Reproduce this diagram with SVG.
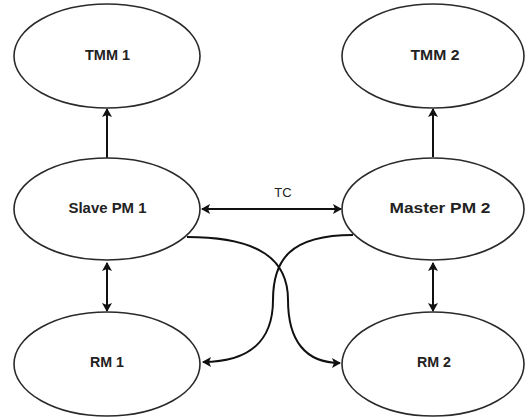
<svg xmlns="http://www.w3.org/2000/svg" width="526" height="418" viewBox="0 0 526 418">
<defs>
<style>
.node ellipse{fill:#fff;stroke:#2a2a2a;stroke-width:1.6}
.node text{font-family:"Liberation Sans",Arial,sans-serif;font-size:14px;font-weight:bold;fill:#222;text-anchor:middle}
.conn path,.conn line{fill:none;stroke:#111;stroke-width:2}
.lbl{font-family:"Liberation Sans",Arial,sans-serif;font-size:13px;fill:#222;text-anchor:middle}
</style>
<marker id="ah" markerUnits="userSpaceOnUse" markerWidth="12" markerHeight="12" viewBox="-1 -6 11 12" refX="8" refY="0" orient="auto-start-reverse">
<path d="M0,-5 L9,0 L0,5 L2,0 z" fill="#111"/>
</marker>
</defs>
<rect width="526" height="418" fill="#fff"/>
<g class="conn">
<line x1="107" y1="158" x2="107" y2="109" marker-end="url(#ah)"/>
<line x1="433" y1="157" x2="433" y2="109" marker-end="url(#ah)"/>
<line x1="107" y1="263" x2="107" y2="311" marker-start="url(#ah)" marker-end="url(#ah)"/>
<line x1="433" y1="263" x2="433" y2="311" marker-start="url(#ah)" marker-end="url(#ah)"/>
<line x1="202" y1="209" x2="341" y2="209" marker-start="url(#ah)" marker-end="url(#ah)"/>
<path d="M187,237 C260,237 288,260 288,300 C288,340 305,363 340,363" marker-end="url(#ah)"/>
<path d="M353,235 C290,235 273,260 273,300 C273,340 250,362 203,362" marker-end="url(#ah)"/>
<text class="lbl" x="283" y="197">TC</text>
</g>
<g id="tmm1" class="node"><ellipse cx="107" cy="56" rx="93" ry="52"/><text x="107.5" y="59.5" textLength="45" lengthAdjust="spacingAndGlyphs">TMM 1</text></g>
<g id="tmm2" class="node"><ellipse cx="433" cy="56" rx="91" ry="52"/><text x="435" y="60" textLength="49" lengthAdjust="spacingAndGlyphs">TMM 2</text></g>
<g id="slave" class="node"><ellipse cx="107" cy="209" rx="93" ry="51"/><text x="107.5" y="213" textLength="78" lengthAdjust="spacingAndGlyphs">Slave PM 1</text></g>
<g id="master" class="node"><ellipse cx="433" cy="209" rx="91" ry="51"/><text x="440" y="213" textLength="101" lengthAdjust="spacingAndGlyphs">Master PM 2</text></g>
<g id="rm1" class="node"><ellipse cx="107" cy="364" rx="93" ry="52"/><text x="107" y="367" textLength="34" lengthAdjust="spacingAndGlyphs">RM 1</text></g>
<g id="rm2" class="node"><ellipse cx="433" cy="364" rx="91" ry="52"/><text x="434" y="367" textLength="34" lengthAdjust="spacingAndGlyphs">RM 2</text></g>
</svg>
